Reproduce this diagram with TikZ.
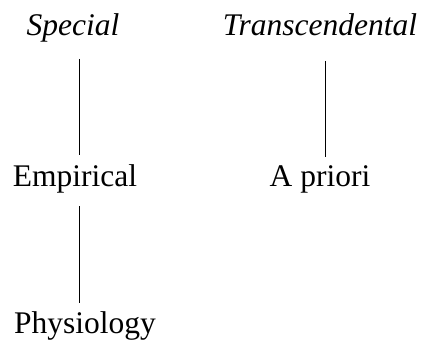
\documentclass[tikz,border=0pt]{standalone}
\usepackage{fontspec}
\setmainfont{Liberation Serif}
\usepackage{tikz}
\usetikzlibrary{positioning}

\begin{document}
\begin{tikzpicture}[x=1pt, y=-1pt, main/.style = {inner sep=0pt, anchor=base, font=\fontsize{31.5}{38}\selectfont}, link/.style = {line width=0.8pt}]
    \useasboundingbox (0,0) rectangle (422,342);
    % 坐标定义
    \node[main] (special) at (73,36) {\itshape Special};
    \node[main] (trans) at (320,36) {\itshape Transcendental};
    \node[main] (empirical) at (75,186) {Empirical};
    \node[main] (apriori) at (320,186) {A priori};
    \node[main] (physio) at (85,333) {Physiology};

    % 边定义
    \draw[link] ([xshift=6pt,yshift=-23pt]special.base) -- ([xshift=4pt,yshift=31pt]empirical.base);
    \draw[link] ([xshift=5pt,yshift=-25pt]trans.base) -- ([xshift=5pt,yshift=29pt]apriori.base);
    \draw[link] ([xshift=4.5pt,yshift=-20pt]empirical.base) -- ([xshift=-5.5pt,yshift=30pt]physio.base);
\end{tikzpicture}
\end{document}
